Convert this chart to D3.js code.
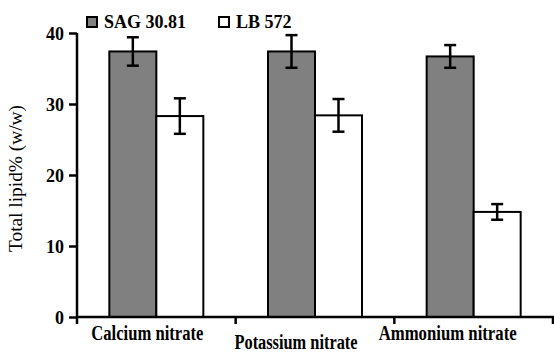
<!DOCTYPE html>
<html>
<head>
<meta charset="utf-8">
<title>Total lipid by nitrogen source</title>
<script src="https://cdn.jsdelivr.net/npm/d3@7"></script>
<style>
  body { margin: 0; background: #fff; }
</style>
</head>
<body>
<svg id="chart" width="554" height="352"></svg>
<script>
// data
var categories = ["Calcium nitrate", "Potassium nitrate", "Ammonium nitrate"];
var series = ["SAG 30.81", "LB 572"];
var sagValues = [37.4, 37.4, 36.7];
var sagErrors = [2.0, 2.3, 1.6];
var lbValues = [28.3, 28.4, 14.8];
var lbErrors = [2.5, 2.3, 1.1];
var yTicks = [0, 10, 20, 30, 40];

var FONT = "'Liberation Serif', 'Times New Roman', serif";
var fills = ["#808080", "#ffffff"];
var svg = d3.select("#chart");

var x = d3.scaleBand().domain(categories).range([77, 553]).padding(0);
var inner = d3.scaleBand().domain(series).range([-47, 47]);
var y = d3.scaleLinear().domain([0, 40]).range([317, 33]);

var rows = [];
categories.forEach(function (c, i) {
  rows.push({ cat: c, s: series[0], v: sagValues[i], e: sagErrors[i] });
  rows.push({ cat: c, s: series[1], v: lbValues[i], e: lbErrors[i] });
});

// bars
svg.append("g").selectAll("rect").data(rows).enter().append("rect")
  .attr("x", function (d) { return x(d.cat) + x.bandwidth() / 2 + inner(d.s); })
  .attr("y", function (d) { return y(d.v); })
  .attr("width", inner.bandwidth())
  .attr("height", function (d) { return y(0) - y(d.v); })
  .attr("fill", function (d) { return fills[series.indexOf(d.s)]; })
  .attr("stroke", "#000")
  .attr("stroke-width", 2);

// error bars
var eb = svg.append("g").attr("stroke", "#000").attr("stroke-width", 2.5);
rows.forEach(function (d) {
  var cx = x(d.cat) + x.bandwidth() / 2 + inner(d.s) + inner.bandwidth() / 2;
  eb.append("line").attr("x1", cx).attr("x2", cx).attr("y1", y(d.v + d.e)).attr("y2", y(d.v - d.e));
  eb.append("line").attr("x1", cx - 6).attr("x2", cx + 6).attr("y1", y(d.v + d.e)).attr("y2", y(d.v + d.e));
  eb.append("line").attr("x1", cx - 6).attr("x2", cx + 6).attr("y1", y(d.v - d.e)).attr("y2", y(d.v - d.e));
});

// y axis
var yAxis = svg.append("g").attr("transform", "translate(77,0)")
  .call(d3.axisLeft(y).tickValues(yTicks).tickSize(8).tickPadding(5));
yAxis.select(".domain").attr("stroke-width", 2.5).attr("d", "M0," + y(40) + "V" + (y(0) + 1));
yAxis.selectAll(".tick line").attr("stroke-width", 2.5);
yAxis.selectAll(".tick text")
  .style("font-family", FONT).style("font-weight", "bold").style("font-size", "18px")
  .attr("dy", "0.34em");

// x axis
var xl = svg.append("g").attr("stroke", "#000").attr("stroke-width", 2.5);
xl.append("line").attr("x1", 76).attr("x2", 554).attr("y1", y(0)).attr("y2", y(0));
var bounds = categories.map(function (c) { return x(c); }).concat([x.range()[1]]);
bounds.forEach(function (b) {
  xl.append("line").attr("x1", b).attr("x2", b).attr("y1", y(0)).attr("y2", y(0) + 7);
});

var labelDx = [-9, -19, -26];
var labelY = [340, 349, 340];
var labelW = [112, 123, 138];
svg.append("g").selectAll("text").data(categories).enter().append("text")
  .style("font-family", FONT).style("font-weight", "bold").style("font-size", "20px")
  .attr("x", function (d, i) { return x(d) + x.bandwidth() / 2 + labelDx[i] - labelW[i] / 2; })
  .attr("y", function (d, i) { return labelY[i]; })
  .attr("textLength", function (d, i) { return labelW[i]; })
  .attr("lengthAdjust", "spacingAndGlyphs")
  .text(function (d) { return d; });

// y title
svg.append("text")
  .attr("transform", "translate(22,252) rotate(-90)")
  .attr("textLength", 147)
  .attr("lengthAdjust", "spacingAndGlyphs")
  .style("font-family", FONT).style("font-size", "18px")
  .text("Total lipid% (w/w)");

// legend
var legX = [87, 219];
var leg = svg.append("g").selectAll("g").data(series).enter().append("g")
  .attr("transform", function (d, i) { return "translate(" + legX[i] + ",17)"; });
leg.append("rect").attr("width", 10).attr("height", 10)
  .attr("fill", function (d, i) { return fills[i]; })
  .attr("stroke", "#000").attr("stroke-width", 2);
leg.append("text").attr("x", 17).attr("y", 10.5)
  .style("font-family", FONT).style("font-weight", "bold").style("font-size", "18px")
  .text(function (d) { return d; });
</script>
</body>
</html>
